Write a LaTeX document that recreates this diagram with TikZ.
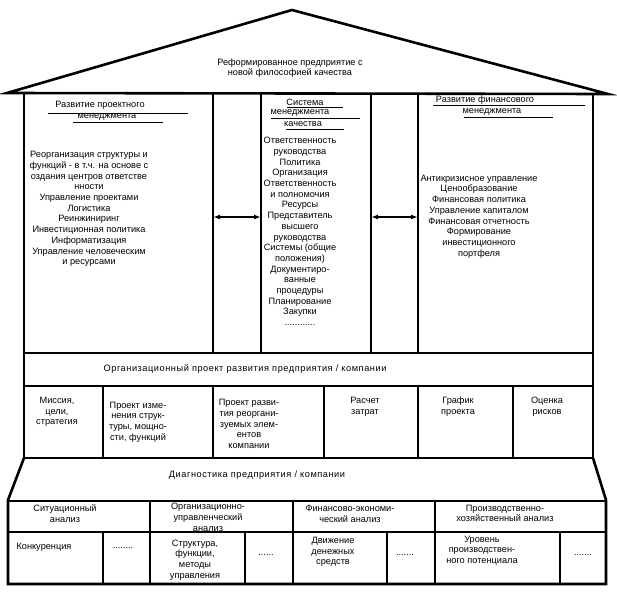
\documentclass[tikz,border=0pt]{standalone}
\usepackage{fontspec}
\setmainfont{Liberation Sans}
\newfontfamily\widefont[LetterSpace=6]{Liberation Sans}
\usetikzlibrary{arrows.meta}

\begin{document}
\begin{tikzpicture}[x=1pt,y=-1pt,
  wall/.style={line width=2.6pt},
  part/.style={line width=1.9pt},
  cell/.style={line width=1.3pt},
  uline/.style={line width=0.8pt},
  txt/.style={font=\fontsize{9.2}{10.7}\selectfont,align=center,inner sep=0pt},
  link/.style={line width=1.8pt,{Latex[length=7pt,width=5pt]}-{Latex[length=7pt,width=5pt]}}]
\useasboundingbox (0,0) rectangle (617,592);
% roof
\draw[wall,line join=miter] (7,93) -- (292,10) -- (608,94) -- cycle;
\node[txt] (roof) at (290,68) {Реформированное предприятие с\\новой философией качества};
% walls and columns
\draw[wall] (24,94) -- (24,458);
\draw[wall] (593,94) -- (593,458);
\foreach \x in {213,261,371,418}
  \draw[part] (\x,94) -- (\x,353);
% project management
\node[txt] (pmtop) at (100,105) {Развитие проектного};
\draw[uline] (48,113) -- (188,113);
\node[txt] (pmbot) at (107,117) {менеджмента};
\draw[uline] (73,122) -- (163,122);
\node[txt] (pmlist) at (89,209) {Реорганизация структуры и\\функций - в т.ч. на основе с\\оздания центров ответстве\\нности\\Управление проектами\\Логистика\\Реинжиниринг\\Инвестиционная политика\\Информатизация\\Управление человеческим\\и ресурсами};
% quality management
\node[txt] (qmtop) at (305,102) {Система};
\draw[uline] (287,107) -- (343,107);
\node[txt] (qmmid) at (300,113) {менеджмента};
\draw[uline] (271,118) -- (360,118);
\node[txt] (qmbot) at (303,124) {качества};
\draw[uline] (286,129) -- (344,129);
\node[txt] (qmlist) at (300,231.5) {Ответственность\\руководства\\Политика\\Организация\\Ответственность\\и полномочия\\Ресурсы\\Представитель\\высшего\\руководства\\Системы (общие\\положения)\\Документиро-\\ванные\\процедуры\\Планирование\\Закупки\\............};
% financial management
\node[txt] (fmtop) at (485,100) {Развитие финансового};
\draw[uline] (433,105) -- (585,105);
\node[txt] (fmbot) at (492,112) {менеджмента};
\draw[uline] (464,117) -- (553,117);
\node[txt] (fmlist) at (479,216.5) {Антикризисное управление\\Ценообразование\\Финансовая политика\\Управление капиталом\\Финансовая отчетность\\Формирование\\инвестиционного\\портфеля};
% links between columns
\coordinate (lnkA) at (213,217);
\coordinate (lnkB) at (261,217);
\coordinate (lnkC) at (371,217);
\coordinate (lnkD) at (418,217);
\draw[link] (lnkA) -- (lnkB);
\draw[link] (lnkC) -- (lnkD);
% organisational project
\draw[wall] (24,353) -- (593,353);
\draw[cell] (24,386) -- (593,386);
\draw[wall] (24,458) -- (593,458);
\foreach \x in {103,213,324,418,513}
  \draw[cell] (\x,386) -- (\x,458);
\node[txt,font=\widefont\fontsize{9.2}{10.7}\selectfont] (orgtitle) at (245,369) {Организационный проект развития предприятия / компании};
\node[txt] (mission) at (57,412) {Миссия,\\цели,\\стратегия};
\node[txt] (structure) at (138,422) {Проект изме-\\нения струк-\\туры, мощно-\\сти, функций};
\node[txt] (reorg) at (249,424) {Проект разви-\\тия реоргани-\\зуемых элем-\\ентов\\компании};
\node[txt] (costs) at (365,406.5) {Расчет\\затрат};
\node[txt] (schedule) at (458,406.5) {График\\проекта};
\node[txt] (risks) at (547,406.5) {Оценка\\рисков};
% diagnostics
\draw[wall,line join=miter] (24,458) -- (8,500) -- (8,584) -- (606,584) -- (606,500) -- (593,458);
\draw[cell] (8,501) -- (606,501);
\draw[cell] (8,532) -- (606,532);
\foreach \x in {150,293,435}
  \draw[cell] (\x,501) -- (\x,584);
\foreach \x in {103,245,387,560}
  \draw[cell] (\x,532) -- (\x,584);
\node[txt,font=\widefont\fontsize{9.2}{10.7}\selectfont] (diagtitle) at (257,475) {Диагностика предприятия / компании};
\node[txt] (situation) at (65,513.5) {Ситуационный\\анализ};
\node[txt] (orgman) at (208,517.5) {Организационно-\\управленческий\\анализ};
\node[txt] (finecon) at (350,513.5) {Финансово-экономи-\\ческий анализ};
\node[txt] (product) at (505,513.5) {Производственно-\\хозяйственный анализ};
\node[txt] (compet) at (44,547) {Конкуренция};
\node[txt] (dotsA) at (123,548) {........};
\node[txt] (funcs) at (195,560) {Структура,\\функции,\\методы\\управления};
\node[txt] (dotsB) at (266,555) {......};
\node[txt] (cash) at (333,552) {Движение\\денежных\\средств};
\node[txt] (dotsC) at (405,555) {.......};
\node[txt] (potential) at (482,550.5) {Уровень\\производствен-\\ного потенциала};
\node[txt] (dotsD) at (583,555) {.......};
\end{tikzpicture}
\end{document}
